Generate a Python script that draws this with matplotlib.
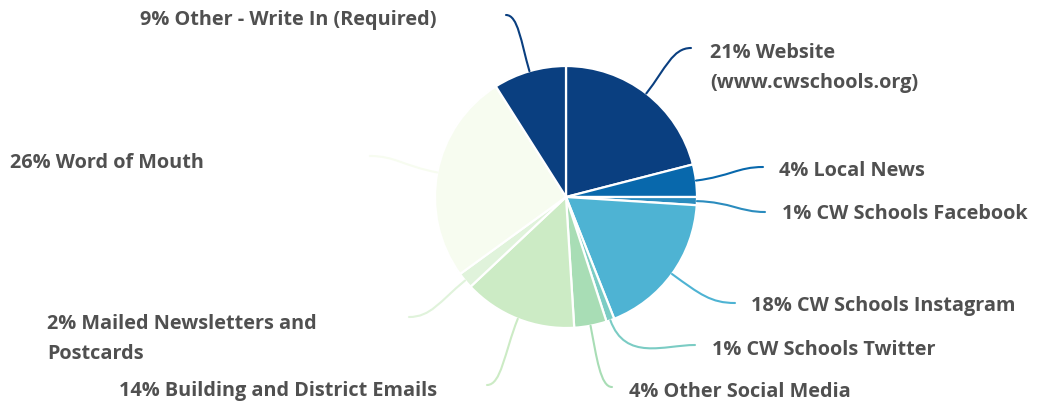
import numpy as np
import matplotlib
matplotlib.use("Agg")
import matplotlib.pyplot as plt
from matplotlib.path import Path
from matplotlib.patches import PathPatch

# ---- data ----
categories = ["Website\n(www.cwschools.org)", "Local News", "CW Schools Facebook",
              "CW Schools Instagram", "CW Schools Twitter", "Other Social Media",
              "Building and District Emails", "Mailed Newsletters and\nPostcards",
              "Word of Mouth", "Other - Write In (Required)"]
values = [21, 4, 1, 18, 1, 4, 14, 2, 26, 9]
colors = ["#0a3f80", "#0868ac", "#2b8cbe", "#4eb3d3", "#7bccc4", "#a8ddb5",
          "#ccebc5", "#e0f3db", "#f7fcf0", "#0a3f80"]

# ---- layout (pixel coordinates, y from top) ----
W, H = 1037, 407
CX, CY, R = 566, 197, 131
label_pos = [(710, 68, "left"), (779, 171, "left"), (782, 214, "left"),
             (751, 306, "left"), (712, 350, "left"), (629, 392, "left"),
             (437, 391, "right"), (47, 339, "left"), (10, 163, "left"),
             (437, 20, "right")]
leader_end = [(691, 48), (763, 167), (765, 212), (735, 303), (695, 345),
              (612, 387), (487, 385), (409, 317), (370, 156), (506, 15)]

def py(y):
    return H - y

fig = plt.figure(figsize=(W / 100, H / 100), dpi=100)
ax = fig.add_axes([0, 0, 1, 1])
ax.set_xlim(0, W)
ax.set_ylim(0, H)
ax.set_aspect("equal")
ax.axis("off")

wedges, _ = ax.pie(values, colors=colors, startangle=90, counterclock=False,
                   center=(CX, py(CY)), radius=R,
                   wedgeprops=dict(edgecolor="white", linewidth=1.6))
ax.set_xlim(0, W)
ax.set_ylim(0, H)

for w, lab, v, col, (lx, ly, ha), (ex, ey) in zip(wedges, categories, values, colors,
                                                    label_pos, leader_end):
    m = np.deg2rad((w.theta1 + w.theta2) / 2)
    u = np.array([np.cos(m), np.sin(m)])
    p0 = np.array([CX, py(CY)]) + R * u
    p3 = np.array([ex, py(ey)], dtype=float)
    dist = np.linalg.norm(p3 - p0)
    p1 = p0 + 0.5 * dist * u
    s = 1 if p3[0] > p0[0] else -1
    p2 = p3 - s * np.array([0.3 * abs(p3[0] - p0[0]) + 5, 0])
    path = Path([p0, p1, p2, p3], [Path.MOVETO, Path.CURVE4, Path.CURVE4, Path.CURVE4])
    ax.add_patch(PathPatch(path, facecolor="none", edgecolor=col, linewidth=1.5,
                           capstyle="round"))
    ax.text(lx, py(ly), f"{v}% {lab}", ha=ha, va="center", fontsize=14.3,
            fontweight="bold", family="Open Sans", color="#505050", linespacing=1.7)

fig.savefig("out.png", dpi=100)
